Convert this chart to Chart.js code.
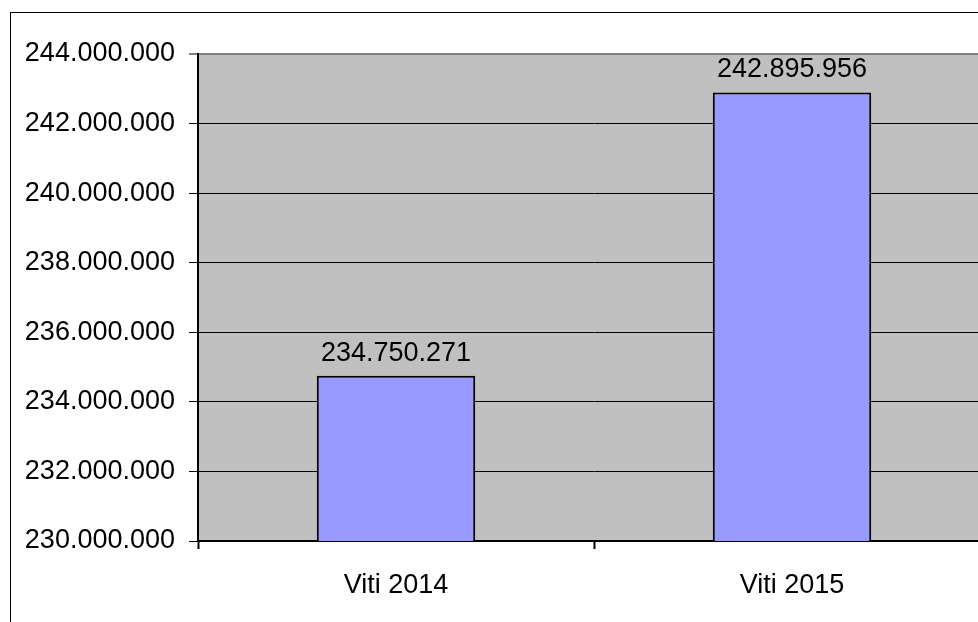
<!DOCTYPE html>
<html>
<head>
<meta charset="utf-8">
<script src="https://cdn.jsdelivr.net/npm/chart.js@4"></script>
<style>
  html, body { margin: 0; padding: 0; background: #fff; overflow: hidden; }
  #frame {
    position: absolute; left: 10px; top: 12px;
    width: 1100px; height: 700px;
    border: 1px solid #000;
  }
  #wrap { position: absolute; left: 0; top: 0; width: 1000px; height: 640px; }
</style>
</head>
<body>
<div id="frame"></div>
<div id="wrap"><canvas id="bars"></canvas></div>
<script>
const categories = ['Viti 2014', 'Viti 2015'];
const values = [234750271, 242895956];
const yMin = 230000000;
const yMax = 244000000;
const yStep = 2000000;

const FONT = { family: '"Liberation Sans", Arial, sans-serif', size: 27 };

function dots(n) {
  return String(Math.round(n)).replace(/\B(?=(\d{3})+(?!\d))/g, '.');
}

const plotBackground = {
  id: 'plotBackground',
  beforeDraw(chart) {
    const { ctx, chartArea: a } = chart;
    ctx.save();
    ctx.fillStyle = '#c0c0c0';
    ctx.fillRect(a.left, a.top, a.right - a.left, a.bottom - a.top);
    ctx.restore();
  },
};

const valueLabels = {
  id: 'valueLabels',
  afterDatasetsDraw(chart) {
    const { ctx } = chart;
    ctx.save();
    ctx.font = `${FONT.size}px ${FONT.family}`;
    ctx.fillStyle = '#000';
    ctx.textAlign = 'center';
    ctx.textBaseline = 'alphabetic';
    chart.getDatasetMeta(0).data.forEach((bar, i) => {
      ctx.fillText(dots(values[i]), bar.x, bar.y - 15);
    });
    ctx.restore();
  },
};

function buildChart() {
  const ctx = document.getElementById('bars');
  new Chart(ctx, {
    type: 'bar',
    data: {
      labels: categories,
      datasets: [{
        data: values,
        backgroundColor: '#9999ff',
        borderColor: '#000',
        borderWidth: 2,
        categoryPercentage: 1,
        barPercentage: 0.4,
      }],
    },
    options: {
      responsive: true,
      maintainAspectRatio: false,
      animation: false,
      layout: { padding: { left: 0, top: 54, right: 10, bottom: 0 } },
      plugins: { legend: { display: false }, tooltip: { enabled: false } },
      scales: {
        x: {
          afterFit: (s) => { s.height = 99; },
          border: { color: '#000', width: 2 },
          grid: { drawOnChartArea: false, drawTicks: true, tickLength: 8, tickColor: '#000', tickWidth: 2, offset: true },
          ticks: { color: '#000', font: FONT, padding: 20, maxRotation: 0 },
        },
        y: {
          min: yMin,
          max: yMax,
          afterFit: (s) => { s.width = 198; },
          border: { color: '#000', width: 2 },
          grid: {
            color: (c) => (c.tick && c.tick.value === yMax ? '#808080' : '#000'),
            lineWidth: (c) => (c.tick && c.tick.value === yMax ? 2 : 1),
            tickLength: 9,
            tickColor: '#000',
            tickWidth: 1,
          },
          ticks: {
            stepSize: yStep,
            color: '#000',
            font: FONT,
            padding: 14,
            callback: (v) => dots(v),
          },
        },
      },
    },
    plugins: [plotBackground, valueLabels],
  });
}

buildChart();
</script>
</body>
</html>
